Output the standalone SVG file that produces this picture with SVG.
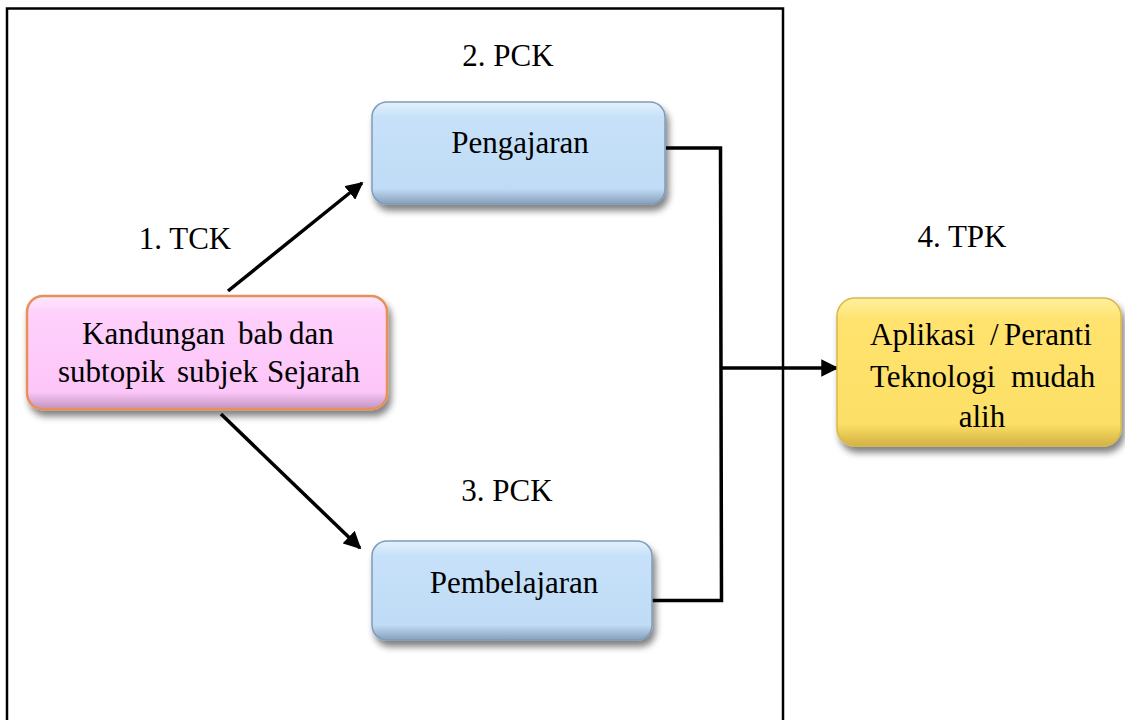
<svg xmlns="http://www.w3.org/2000/svg" width="1125" height="720" viewBox="0 0 1125 720">
<style>
.lbl{font-family:"Liberation Serif","Times New Roman",serif;font-size:31px;fill:#000}
.nt{font-family:"Liberation Serif","Times New Roman",serif;font-size:31px;fill:#000}
.con{fill:none;stroke:#000;stroke-width:3.5}
</style>
<defs>
<filter id="sh" x="-10%" y="-10%" width="125%" height="140%">
<feGaussianBlur in="SourceAlpha" stdDeviation="3.5"/>
<feOffset dx="3" dy="6" result="b"/>
<feComponentTransfer><feFuncA type="linear" slope="0.5"/></feComponentTransfer>
<feMerge><feMergeNode/><feMergeNode in="SourceGraphic"/></feMerge>
</filter>
<linearGradient id="gPink" x1="0" y1="0" x2="0" y2="1">
<stop offset="0" stop-color="#fde8fc"/><stop offset="0.15" stop-color="#ffd0fb"/><stop offset="0.85" stop-color="#fcc6f8"/><stop offset="1" stop-color="#c094c0"/>
</linearGradient>
<linearGradient id="gBlue" x1="0" y1="0" x2="0" y2="1">
<stop offset="0" stop-color="#e4f1fd"/><stop offset="0.15" stop-color="#c6e1f9"/><stop offset="0.85" stop-color="#c0dbf5"/><stop offset="1" stop-color="#879fba"/>
</linearGradient>
<linearGradient id="gYel" x1="0" y1="0" x2="0" y2="1">
<stop offset="0" stop-color="#fff0a0"/><stop offset="0.15" stop-color="#ffe36e"/><stop offset="0.85" stop-color="#fcdf66"/><stop offset="1" stop-color="#d2b244"/>
</linearGradient>
<marker id="ah" viewBox="0 0 10 10" refX="9" refY="5" markerWidth="5" markerHeight="5" orient="auto" markerUnits="strokeWidth">
<path d="M0,0 L10,5 L0,10 z" fill="#000"/>
</marker>
</defs>
<rect width="1125" height="720" fill="#fff"/>
<rect x="7" y="8.5" width="776" height="720" fill="none" stroke="#000" stroke-width="2.5"/>

<g id="connectors">
<line class="con" x1="228" y1="291" x2="362" y2="183" marker-end="url(#ah)"/>
<line class="con" x1="221" y1="414" x2="360" y2="548" marker-end="url(#ah)"/>
<polyline class="con" points="666,148 720.5,148 721.5,600.5 652,600.5"/>
<line class="con" x1="721" y1="368" x2="837" y2="368" marker-end="url(#ah)"/>
</g>

<g id="label-tck"><text class="lbl" x="185" y="249" text-anchor="middle">1. TCK</text></g>
<g id="label-pck2"><text class="lbl" x="508" y="66" text-anchor="middle">2. PCK</text></g>
<g id="label-pck3"><text class="lbl" x="507" y="501" text-anchor="middle">3. PCK</text></g>
<g id="label-tpk"><text class="lbl" x="962" y="247" text-anchor="middle">4. TPK</text></g>

<g id="node-kandungan">
<rect x="27" y="296" width="360" height="113" rx="16" fill="url(#gPink)" stroke="#e8905a" stroke-width="2.5" filter="url(#sh)"/>
<text class="nt" y="344"><tspan x="82">Kandungan</tspan><tspan x="238">bab</tspan><tspan x="289">dan</tspan></text>
<text class="nt" y="382"><tspan x="58">subtopik</tspan><tspan x="177">subjek</tspan><tspan x="267">Sejarah</tspan></text>
</g>

<g id="node-pengajaran">
<rect x="372" y="102" width="293" height="102" rx="15" fill="url(#gBlue)" stroke="#7f9cbc" stroke-width="1.5" filter="url(#sh)"/>
<text class="nt" x="520" y="153" text-anchor="middle">Pengajaran</text>
</g>

<g id="node-pembelajaran">
<rect x="372" y="541" width="280" height="99" rx="15" fill="url(#gBlue)" stroke="#7f9cbc" stroke-width="1.5" filter="url(#sh)"/>
<text class="nt" x="514" y="593" text-anchor="middle">Pembelajaran</text>
</g>

<g id="node-aplikasi">
<rect x="837" y="298" width="284" height="148" rx="18" fill="url(#gYel)" stroke="#d9b84a" stroke-width="1.5" filter="url(#sh)"/>
<text class="nt" y="345"><tspan x="870">Aplikasi</tspan><tspan x="990">/</tspan><tspan x="1004">Peranti</tspan></text>
<text class="nt" y="387"><tspan x="870">Teknologi</tspan><tspan x="1011">mudah</tspan></text>
<text class="nt" x="982" y="427" text-anchor="middle">alih</text>
</g>
</svg>
